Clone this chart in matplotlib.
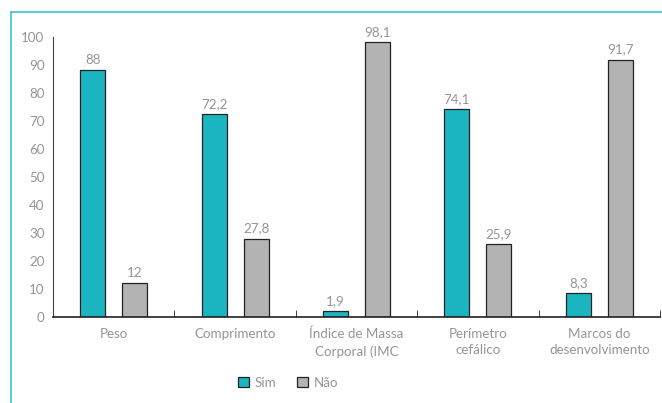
import matplotlib.pyplot as plt
from matplotlib.lines import Line2D
import numpy as np

categorias = ['Peso', 'Comprimento', 'Índice de Massa\nCorporal (IMC', 'Perímetro\ncefálico',
              'Marcos do\ndesenvolvimento']
sim = [88, 72.2, 1.9, 74.1, 8.3]
nao = [12, 27.8, 98.1, 25.9, 91.7]
rotulos_sim = ['88', '72,2', '1,9', '74,1', '8,3']
rotulos_nao = ['12', '27,8', '98,1', '25,9', '91,7']

plt.rcParams['font.family'] = ['Lato', 'DejaVu Sans']
cinza_txt = '#959595'
teal = '#1ab5c1'
cinza = '#b3b3b3'
fs = 9.6

fig = plt.figure(figsize=(6.62, 4.03), dpi=100)
ax = fig.add_axes([0.080, 0.2144, 0.917, 0.6948])

x = np.arange(len(categorias))
w = 0.206
off = 0.173
b1 = ax.bar(x - off, sim, w, color=teal, edgecolor='#222222', linewidth=0.9, label='Sim')
b2 = ax.bar(x + off, nao, w, color=cinza, edgecolor='#222222', linewidth=0.9, label='Não')

for rect, t in zip(b1, rotulos_sim):
    ax.text(rect.get_x() + rect.get_width() / 2, rect.get_height() + 1.5, t,
            ha='center', va='bottom', fontsize=fs, color=cinza_txt)
for rect, t in zip(b2, rotulos_nao):
    ax.text(rect.get_x() + rect.get_width() / 2, rect.get_height() + 1.5, t,
            ha='center', va='bottom', fontsize=fs, color=cinza_txt)

ax.set_xlim(-0.5, len(categorias) - 0.5)
ax.set_ylim(0, 100)
ax.set_yticks(range(0, 101, 10))
ax.set_xticks(x)
ax.set_xticklabels(categorias, fontsize=fs, color=cinza_txt, linespacing=1.45)
ax.set_xticks(np.arange(-0.5, len(categorias), 1), minor=True)
ax.tick_params(axis='x', which='major', length=0, pad=8)
ax.tick_params(axis='x', which='minor', direction='in', length=5, color='#222222')
ax.tick_params(axis='y', length=0, pad=6, labelsize=fs, labelcolor=cinza_txt)

for s in ['top', 'right']:
    ax.spines[s].set_visible(False)
ax.spines['left'].set_color('#444444')
ax.spines['bottom'].set_color('#222222')
ax.spines['bottom'].set_linewidth(1.2)

fig.legend(handles=[b1, b2], labels=['Sim', 'Não'], loc='center', bbox_to_anchor=(0.435, 0.05),
           ncol=2, frameon=False, fontsize=fs, labelcolor=cinza_txt, handlelength=0.8,
           handleheight=0.8, handletextpad=0.4, columnspacing=1.6)

# moldura
fig.add_artist(Line2D([11 / 662, 1], [1 - 12 / 403] * 2, color='#3cc4cf', lw=1.2))
fig.add_artist(Line2D([11 / 662] * 2, [0, 1 - 12 / 403], color='#3cc4cf', lw=1.2))

plt.savefig('out.png')
plt.close()
